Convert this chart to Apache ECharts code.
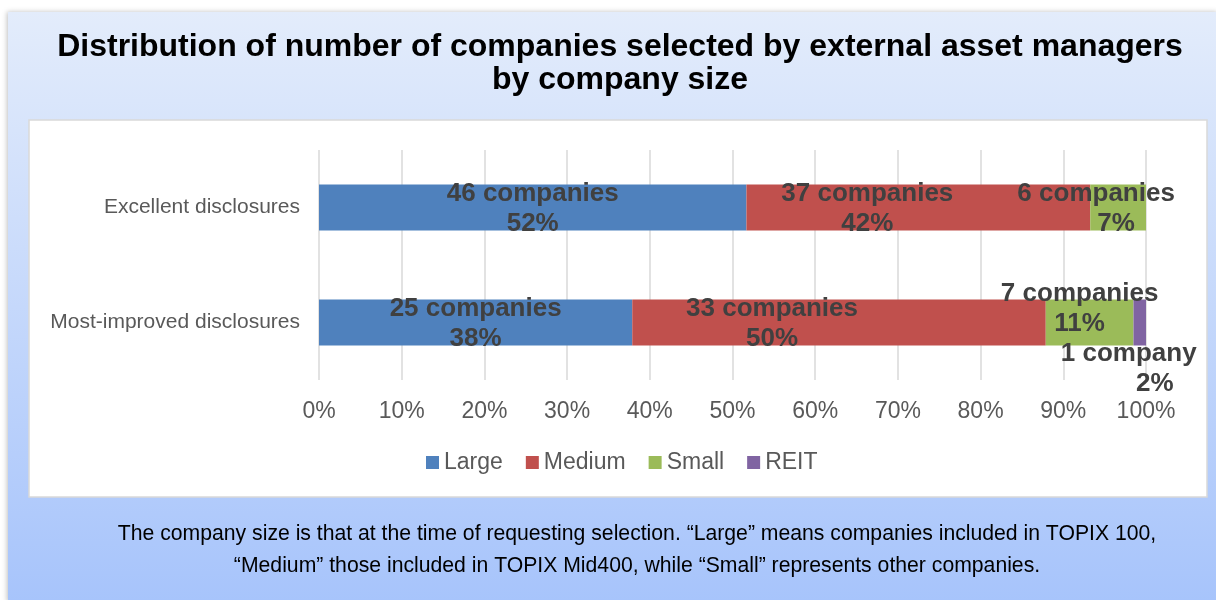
<!DOCTYPE html>
<html>
<head>
<meta charset="utf-8">
<script src="https://cdn.jsdelivr.net/npm/echarts@6/dist/echarts.min.js"></script>
<style>
  html, body { margin: 0; padding: 0; background: #ffffff; }
  #chart { width: 1216px; height: 600px; }
</style>
</head>
<body>
<div id="chart"></div>
<script>
// Selection categories (top to bottom)
const categories = ['Excellent disclosures', 'Most-improved disclosures'];
// Number of companies by company size, per category
const large  = [46, 25];
const medium = [37, 33];
const small  = [6, 7];
const reit   = [0, 1];
const seriesNames = ['Large', 'Medium', 'Small', 'REIT'];
// Axis tick labels (0% .. 100%)
const tickLabels = ['0%', '10%', '20%', '30%', '40%', '50%', '60%', '70%', '80%', '90%', '100%'];

const counts = [large, medium, small, reit];
const colors = ['#4f81bd', '#c0504d', '#9bbb59', '#8064a2'];
const totals = categories.map((_, i) => counts.reduce((s, arr) => s + arr[i], 0));

// Label placement tweaks per series, per category: [dx, dy, second-line left pad]
const labelTweaks = [
  [[0, 1, 0], [0, 1, 0]],
  [[-51, 1, 0], [-67, 1, 0]],
  [[-22, 1, 40], [-10, -14, 0]],
  [[0, 0, 0], [-11, 46, 52]]
];

const FONT = 'Liberation Sans, Arial, sans-serif';
const labelFont = { fontFamily: FONT, fontWeight: 'bold', fontSize: 26, color: '#404040', lineHeight: 30 };

const series = counts.map((arr, si) => ({
  name: seriesNames[si],
  type: 'bar',
  stack: 'share',
  barWidth: 46,
  itemStyle: { color: colors[si] },
  emphasis: { disabled: true },
  data: arr.map((n, ci) => {
    const share = n / totals[ci];
    const t = labelTweaks[si][ci];
    return {
      value: share,
      count: n,
      label: {
        show: n > 0,
        position: 'inside',
        offset: [t[0], t[1]],
        formatter: () => '{a|' + n + (n === 1 ? ' company' : ' companies') + '}\n{b|' + Math.round(share * 100) + '%}',
        rich: {
          a: Object.assign({}, labelFont),
          b: Object.assign({}, labelFont, { padding: [0, 0, 0, t[2]] })
        }
      }
    };
  })
}));

const chart = echarts.init(document.getElementById('chart'), null, { renderer: 'canvas' });
chart.setOption({
  animation: false,
  backgroundColor: '#ffffff',
  textStyle: { fontFamily: FONT },
  title: {
    text: 'Distribution of number of companies selected by external asset managers\nby company size',
    left: 615,
    top: 26,
    textAlign: 'center',
    textStyle: { fontSize: 32, fontWeight: 'bold', color: '#000000', lineHeight: 33, fontFamily: FONT }
  },
  graphic: [
    {
      type: 'rect', z: -10, silent: true,
      shape: { x: 8, y: 12, width: 1210, height: 590 },
      style: {
        fill: new echarts.graphic.LinearGradient(0, 0, 0, 1, [
          { offset: 0, color: '#e3ecfb' },
          { offset: 1, color: '#a7c4fb' }
        ]),
        shadowBlur: 5, shadowColor: 'rgba(0,0,0,0.25)', shadowOffsetX: -1, shadowOffsetY: 0
      }
    },
    {
      type: 'rect', z: -9, silent: true,
      shape: { x: 29, y: 120, width: 1178, height: 377 },
      style: { fill: '#ffffff', stroke: '#d9d9d9', lineWidth: 1.5 }
    },
    {
      type: 'text', z: 5, silent: true,
      x: 637, y: 550,
      style: {
        text: 'The company size is that at the time of requesting selection. \u201cLarge\u201d means companies included in TOPIX 100,\n\u201cMedium\u201d those included in TOPIX Mid400, while \u201cSmall\u201d represents other companies.',
        fill: '#000000', fontSize: 21.2, lineHeight: 32, align: 'center', verticalAlign: 'middle',
        fontFamily: FONT
      }
    }
  ],
  legend: {
    left: 421,
    top: 446,
    itemWidth: 13,
    itemHeight: 13,
    itemGap: 23,
    icon: 'rect',
    selectedMode: false,
    textStyle: { fontSize: 23, color: '#595959' },
    data: seriesNames
  },
  grid: { left: 319, right: 70, top: 150, bottom: 220, containLabel: false },
  xAxis: {
    type: 'value',
    min: 0,
    max: 1,
    interval: 0.1,
    axisLine: { show: false },
    axisTick: { show: false },
    splitLine: { show: true, lineStyle: { color: '#d9d9d9', width: 1.5 } },
    axisLabel: {
      margin: 20,
      fontSize: 23,
      color: '#595959',
      formatter: (v) => tickLabels[Math.round(v * 10)]
    }
  },
  yAxis: {
    type: 'category',
    inverse: true,
    data: categories,
    axisLine: { show: false },
    axisTick: { show: false },
    axisLabel: { margin: 19, fontSize: 21, color: '#595959' }
  },
  series: series
});
</script>
</body>
</html>
